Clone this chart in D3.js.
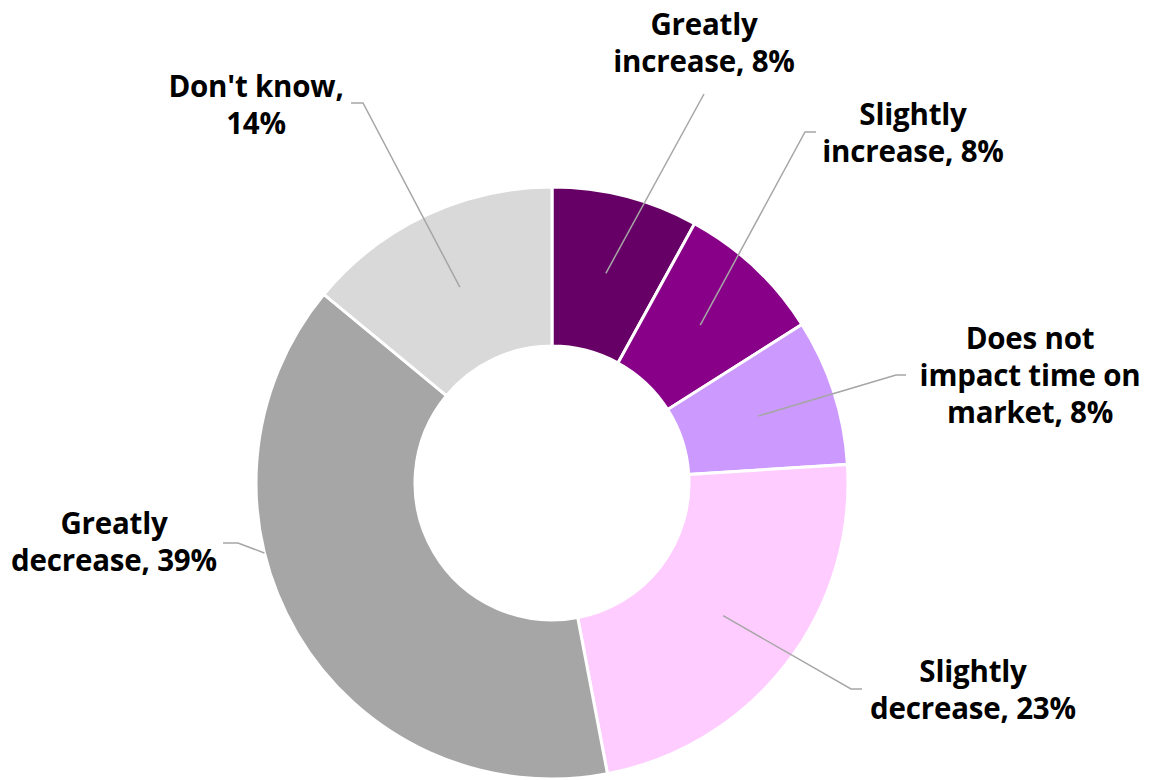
<!DOCTYPE html>
<html>
<head>
<meta charset="utf-8">
<script src="https://cdn.jsdelivr.net/npm/d3@7"></script>
<style>
  html, body { margin: 0; padding: 0; background: #fff; }
  text { font-family: "Open Sans", "Lato", sans-serif; font-weight: 700; }
</style>
</head>
<body>
<div id="chart"></div>
<script>
// data, clockwise from 12 o'clock
var categories = ["Greatly increase", "Slightly increase", "Does not impact time on market",
                  "Slightly decrease", "Greatly decrease", "Don't know"];
var values = [8, 8, 8, 23, 39, 14];
var labelLines = [
    ["Greatly", "increase, 8%"],
    ["Slightly", "increase, 8%"],
    ["Does not", "impact time on", "market, 8%"],
    ["Slightly", "decrease, 23%"],
    ["Greatly", "decrease, 39%"],
    ["Don't know,", "14%"]
];
var colors = ["#660066", "#880088", "#CC99FF", "#FFCCFF", "#A6A6A6", "#D9D9D9"];

// label placement (text centre x, first baseline y, elbow point, horizontal tail end)
var labelLayout = [
    {x: 704,  y: 35,  elbow: [704, 94],  tail: null},
    {x: 913,  y: 125, elbow: [805, 132], tail: [816, 132]},
    {x: 1030, y: 349, elbow: [896, 375], tail: [906, 375]},
    {x: 973,  y: 682, elbow: [851, 689], tail: [862, 689]},
    {x: 114,  y: 534, elbow: [238, 543], tail: [223, 543], edge: true},
    {x: 256,  y: 97,  elbow: [363, 103], tail: [351, 103]}
];

var width = 1159, height = 780,
    cx = 552, cy = 483,
    outerR = 296, innerR = 137,
    lineH = 37;

var svg = d3.select("#chart").append("svg")
    .attr("width", width)
    .attr("height", height);

var g = svg.append("g").attr("transform", "translate(" + cx + "," + cy + ")");

var pie = d3.pie().sort(null).value(function(d) { return d; });
var arcs = pie(values);

var arc = d3.arc().innerRadius(innerR).outerRadius(outerR);

g.selectAll("path.slice")
    .data(arcs)
    .enter()
    .append("path")
    .attr("class", "slice")
    .attr("d", arc)
    .attr("fill", function(d, i) { return colors[i]; })
    .attr("stroke", "#fff")
    .attr("stroke-width", 3)
    .attr("stroke-linejoin", "miter");

// leader lines
function leaderStart(d, i) {
    var lay = labelLayout[i];
    if (lay.edge) {
        // point on outer rim facing the elbow, kept inside the slice
        var ex = lay.elbow[0] - cx, ey = lay.elbow[1] - cy;
        var a = Math.atan2(ex, -ey);
        if (a < 0) a += 2 * Math.PI;
        a = Math.max(d.startAngle, Math.min(d.endAngle, a - 0.05));
        return [Math.sin(a) * outerR, -Math.cos(a) * outerR];
    }
    return arc.centroid(d);
}

g.selectAll("polyline.leader")
    .data(arcs)
    .enter()
    .append("polyline")
    .attr("class", "leader")
    .attr("fill", "none")
    .attr("stroke", "#A6A6A6")
    .attr("stroke-width", 1.5)
    .attr("points", function(d, i) {
        var lay = labelLayout[i];
        var pts = [leaderStart(d, i), [lay.elbow[0] - cx, lay.elbow[1] - cy]];
        if (lay.tail) pts.push([lay.tail[0] - cx, lay.tail[1] - cy]);
        return pts.map(function(p) { return p.join(","); }).join(" ");
    });

// labels
var labels = svg.selectAll("text.label")
    .data(labelLines)
    .enter()
    .append("text")
    .attr("class", "label")
    .attr("text-anchor", "middle")
    .attr("font-size", 29.5)
    .attr("letter-spacing", -0.2)
    .attr("fill", "#000");

labels.each(function(lines, i) {
    var lay = labelLayout[i];
    d3.select(this).selectAll("tspan")
        .data(lines)
        .enter()
        .append("tspan")
        .attr("x", lay.x)
        .attr("y", function(l, j) { return lay.y + j * lineH; })
        .text(function(l) { return l; });
});
</script>
</body>
</html>
